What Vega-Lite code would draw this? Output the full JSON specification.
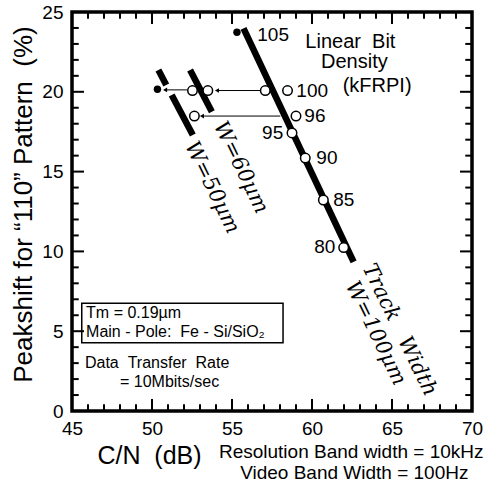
{
  "$schema": "https://vega.github.io/schema/vega-lite/v6.json",
  "width": 400,
  "height": 399,
  "autosize": {"type": "none"},
  "padding": {"left": 72, "top": 12, "right": 14, "bottom": 73},
  "background": "white",
  "config": {
    "view": {"stroke": "black", "strokeWidth": 3.5},
    "font": "Liberation Sans",
    "axis": {
      "domain": false,
      "grid": false,
      "ticks": false,
      "labelFont": "Liberation Sans",
      "labelFontSize": 19,
      "labelColor": "black",
      "labelOverlap": false,
      "labelFlush": false,
      "titleFont": "Liberation Sans",
      "titleFontWeight": "normal",
      "titleColor": "black"
    }
  },
  "datasets": {
    "thick": [
      {"seg": "W100", "x": 55.72, "y": 23.98}, {"seg": "W100", "x": 62.60, "y": 9.35},
      {"seg": "W60", "x": 52.38, "y": 21.37}, {"seg": "W60", "x": 53.74, "y": 18.75},
      {"seg": "W50a", "x": 50.40, "y": 21.37}, {"seg": "W50a", "x": 50.89, "y": 20.43},
      {"seg": "W50b", "x": 51.23, "y": 19.80}, {"seg": "W50b", "x": 52.55, "y": 17.29}
    ],
    "open": [
      {"x": 57.08, "y": 20.08}, {"x": 58.47, "y": 20.08}, {"x": 53.49, "y": 20.08}, {"x": 52.53, "y": 20.08},
      {"x": 52.65, "y": 18.48}, {"x": 59.00, "y": 18.48}, {"x": 58.75, "y": 17.42},
      {"x": 59.58, "y": 15.85}, {"x": 60.71, "y": 13.22}, {"x": 61.98, "y": 10.24}
    ],
    "filled": [{"x": 55.31, "y": 23.73}, {"x": 50.34, "y": 20.16}],
    "arrows": [
      {"from": 56.76, "tip": 54.06, "y": 20.08},
      {"from": 58.02, "tip": 53.12, "y": 18.48},
      {"from": 52.18, "tip": 50.82, "y": 20.12}
    ],
    "numLeft": [
      {"t": "105", "x": 56.58, "y": 23.56}, {"t": "100", "x": 59.02, "y": 20.05},
      {"t": "96", "x": 59.52, "y": 18.48}, {"t": "90", "x": 60.27, "y": 15.85},
      {"t": "85", "x": 61.33, "y": 13.22}
    ],
    "numRight": [{"t": "95", "x": 58.20, "y": 17.42}, {"t": "80", "x": 61.46, "y": 10.28}],
    "header": [
      {"t": "Linear\u00a0\u00a0Bit", "x": 62.40, "y": 23.14},
      {"t": "Density", "x": 62.65, "y": 21.89},
      {"t": "(kFRPI)", "x": 64.07, "y": 20.36}
    ],
    "box": [{"x": 45.61, "x2": 58.19, "y": 6.75, "y2": 4.28}],
    "notesLeft": [
      {"t": "Tm = 0.19µm", "x": 45.88, "y": 6.14},
      {"t": "Main - Pole:\u00a0\u00a0Fe - Si/SiO₂", "x": 45.88, "y": 4.95},
      {"t": "Data\u00a0\u00a0Transfer\u00a0\u00a0Rate", "x": 45.81, "y": 3.01},
      {"t": "= 10Mbits/sec", "x": 48.0, "y": 1.84}
    ],
    "notesBottom": [
      {"t": "Resolution Band width = 10kHz", "x": 70.72, "y": -2.57},
      {"t": "Video Band Width = 100Hz", "x": 69.78, "y": -3.88}
    ],
    "rotated": [
      {"t": "W=60µm", "x": 55.54, "y": 15.26},
      {"t": "W=50µm", "x": 53.74, "y": 14.0},
      {"t": "Track\u00a0\u00a0\u00a0Width", "x": 65.46, "y": 5.08},
      {"t": "W=100µm", "x": 63.96, "y": 4.87}
    ],
    "xminor": [
      {"v": 45, "lo": 0, "hi": 0.42, "top": 25, "topLo": 24.58},
      {"v": 46, "lo": 0, "hi": 0.42, "top": 25, "topLo": 24.58},
      {"v": 47, "lo": 0, "hi": 0.42, "top": 25, "topLo": 24.58},
      {"v": 48, "lo": 0, "hi": 0.42, "top": 25, "topLo": 24.58},
      {"v": 49, "lo": 0, "hi": 0.42, "top": 25, "topLo": 24.58},
      {"v": 50, "lo": 0, "hi": 0.75, "top": 25, "topLo": 24.25},
      {"v": 51, "lo": 0, "hi": 0.42, "top": 25, "topLo": 24.58},
      {"v": 52, "lo": 0, "hi": 0.42, "top": 25, "topLo": 24.58},
      {"v": 53, "lo": 0, "hi": 0.42, "top": 25, "topLo": 24.58},
      {"v": 54, "lo": 0, "hi": 0.42, "top": 25, "topLo": 24.58},
      {"v": 55, "lo": 0, "hi": 0.75, "top": 25, "topLo": 24.25},
      {"v": 56, "lo": 0, "hi": 0.42, "top": 25, "topLo": 24.58},
      {"v": 57, "lo": 0, "hi": 0.42, "top": 25, "topLo": 24.58},
      {"v": 58, "lo": 0, "hi": 0.42, "top": 25, "topLo": 24.58},
      {"v": 59, "lo": 0, "hi": 0.42, "top": 25, "topLo": 24.58},
      {"v": 60, "lo": 0, "hi": 0.75, "top": 25, "topLo": 24.25},
      {"v": 61, "lo": 0, "hi": 0.42, "top": 25, "topLo": 24.58},
      {"v": 62, "lo": 0, "hi": 0.42, "top": 25, "topLo": 24.58},
      {"v": 63, "lo": 0, "hi": 0.42, "top": 25, "topLo": 24.58},
      {"v": 64, "lo": 0, "hi": 0.42, "top": 25, "topLo": 24.58},
      {"v": 65, "lo": 0, "hi": 0.75, "top": 25, "topLo": 24.25},
      {"v": 66, "lo": 0, "hi": 0.42, "top": 25, "topLo": 24.58},
      {"v": 67, "lo": 0, "hi": 0.42, "top": 25, "topLo": 24.58},
      {"v": 68, "lo": 0, "hi": 0.42, "top": 25, "topLo": 24.58},
      {"v": 69, "lo": 0, "hi": 0.42, "top": 25, "topLo": 24.58}
    ],
    "yminor": [
      {"v": 1, "lo": 45, "hi": 45.42, "rt": 70, "rtLo": 69.58},
      {"v": 2, "lo": 45, "hi": 45.42, "rt": 70, "rtLo": 69.58},
      {"v": 3, "lo": 45, "hi": 45.42, "rt": 70, "rtLo": 69.58},
      {"v": 4, "lo": 45, "hi": 45.42, "rt": 70, "rtLo": 69.58},
      {"v": 5, "lo": 45, "hi": 45.75, "rt": 70, "rtLo": 69.25},
      {"v": 6, "lo": 45, "hi": 45.42, "rt": 70, "rtLo": 69.58},
      {"v": 7, "lo": 45, "hi": 45.42, "rt": 70, "rtLo": 69.58},
      {"v": 8, "lo": 45, "hi": 45.42, "rt": 70, "rtLo": 69.58},
      {"v": 9, "lo": 45, "hi": 45.42, "rt": 70, "rtLo": 69.58},
      {"v": 10, "lo": 45, "hi": 45.75, "rt": 70, "rtLo": 69.25},
      {"v": 11, "lo": 45, "hi": 45.42, "rt": 70, "rtLo": 69.58},
      {"v": 12, "lo": 45, "hi": 45.42, "rt": 70, "rtLo": 69.58},
      {"v": 13, "lo": 45, "hi": 45.42, "rt": 70, "rtLo": 69.58},
      {"v": 14, "lo": 45, "hi": 45.42, "rt": 70, "rtLo": 69.58},
      {"v": 15, "lo": 45, "hi": 45.75, "rt": 70, "rtLo": 69.25},
      {"v": 16, "lo": 45, "hi": 45.42, "rt": 70, "rtLo": 69.58},
      {"v": 17, "lo": 45, "hi": 45.42, "rt": 70, "rtLo": 69.58},
      {"v": 18, "lo": 45, "hi": 45.42, "rt": 70, "rtLo": 69.58},
      {"v": 19, "lo": 45, "hi": 45.42, "rt": 70, "rtLo": 69.58},
      {"v": 20, "lo": 45, "hi": 45.75, "rt": 70, "rtLo": 69.25},
      {"v": 21, "lo": 45, "hi": 45.42, "rt": 70, "rtLo": 69.58},
      {"v": 22, "lo": 45, "hi": 45.42, "rt": 70, "rtLo": 69.58},
      {"v": 23, "lo": 45, "hi": 45.42, "rt": 70, "rtLo": 69.58},
      {"v": 24, "lo": 45, "hi": 45.42, "rt": 70, "rtLo": 69.58}
    ]
  },
  "layer": [
    {
      "data": {"name": "thick"},
      "mark": {"type": "line", "color": "black", "strokeWidth": 6.5, "strokeCap": "butt"},
      "encoding": {
        "x": {"field": "x", "type": "quantitative",
          "scale": {"domain": [45, 70], "nice": false, "zero": false},
          "axis": {
            "orient": "bottom",
            "values": [45, 50, 55, 60, 65, 70],
            "labelPadding": 8,
            "title": "C/N\u00a0\u00a0(dB)",
            "titleFontSize": 25,
            "titleX": 77, "titleY": 44,
            "titleAlign": "center", "titleBaseline": "middle", "titleAngle": 0
          }},
        "y": {"field": "y", "type": "quantitative",
          "scale": {"domain": [0, 25], "nice": false, "zero": false},
          "axis": {
            "orient": "left",
            "values": [0, 5, 10, 15, 20, 25],
            "labelPadding": 9,
            "title": "Peakshift for “110” Pattern\u00a0\u00a0(%)",
            "titleFontSize": 26,
            "titleX": -49, "titleY": 192,
            "titleAlign": "center", "titleBaseline": "middle", "titleAngle": -90
          }},
        "detail": {"field": "seg"}
      }
    },
    {
      "data": {"name": "arrows"},
      "mark": {"type": "rule", "color": "black", "strokeWidth": 1},
      "encoding": {
        "x": {"field": "from", "type": "quantitative"},
        "x2": {"field": "tip"},
        "y": {"field": "y", "type": "quantitative"}
      }
    },
    {
      "data": {"name": "arrows"},
      "mark": {"type": "point", "shape": "triangle-left", "filled": true, "color": "black", "size": 22, "opacity": 1},
      "encoding": {
        "x": {"field": "tip", "type": "quantitative"},
        "y": {"field": "y", "type": "quantitative"}
      }
    },
    {
      "data": {"name": "open"},
      "mark": {"type": "point", "shape": "circle", "filled": true, "fill": "white", "stroke": "black", "strokeWidth": 1.5, "size": 90, "opacity": 1},
      "encoding": {
        "x": {"field": "x", "type": "quantitative"},
        "y": {"field": "y", "type": "quantitative"}
      }
    },
    {
      "data": {"name": "filled"},
      "mark": {"type": "circle", "color": "black", "size": 55, "opacity": 1},
      "encoding": {
        "x": {"field": "x", "type": "quantitative"},
        "y": {"field": "y", "type": "quantitative"}
      }
    },
    {
      "data": {"name": "numLeft"},
      "mark": {"type": "text", "align": "left", "baseline": "middle", "fontSize": 19, "font": "Liberation Sans", "color": "black"},
      "encoding": {
        "x": {"field": "x", "type": "quantitative"},
        "y": {"field": "y", "type": "quantitative"},
        "text": {"field": "t"}
      }
    },
    {
      "data": {"name": "numRight"},
      "mark": {"type": "text", "align": "right", "baseline": "middle", "fontSize": 19, "font": "Liberation Sans", "color": "black"},
      "encoding": {
        "x": {"field": "x", "type": "quantitative"},
        "y": {"field": "y", "type": "quantitative"},
        "text": {"field": "t"}
      }
    },
    {
      "data": {"name": "header"},
      "mark": {"type": "text", "align": "center", "baseline": "middle", "fontSize": 20, "font": "Liberation Sans", "color": "black"},
      "encoding": {
        "x": {"field": "x", "type": "quantitative"},
        "y": {"field": "y", "type": "quantitative"},
        "text": {"field": "t"}
      }
    },
    {
      "data": {"name": "box"},
      "mark": {"type": "rect", "fillOpacity": 0, "stroke": "black", "strokeWidth": 1.5},
      "encoding": {
        "x": {"field": "x", "type": "quantitative"},
        "x2": {"field": "x2"},
        "y": {"field": "y", "type": "quantitative"},
        "y2": {"field": "y2"}
      }
    },
    {
      "data": {"name": "notesLeft"},
      "mark": {"type": "text", "align": "left", "baseline": "middle", "fontSize": 16, "font": "Liberation Sans", "color": "black"},
      "encoding": {
        "x": {"field": "x", "type": "quantitative"},
        "y": {"field": "y", "type": "quantitative"},
        "text": {"field": "t"}
      }
    },
    {
      "data": {"name": "notesBottom"},
      "mark": {"type": "text", "align": "right", "baseline": "middle", "fontSize": 19, "font": "Liberation Sans", "color": "black"},
      "encoding": {
        "x": {"field": "x", "type": "quantitative"},
        "y": {"field": "y", "type": "quantitative"},
        "text": {"field": "t"}
      }
    },
    {
      "data": {"name": "rotated"},
      "mark": {"type": "text", "align": "center", "baseline": "middle", "fontSize": 21, "font": "DejaVu Serif", "fontStyle": "italic", "angle": 64, "color": "black"},
      "encoding": {
        "x": {"field": "x", "type": "quantitative"},
        "y": {"field": "y", "type": "quantitative"},
        "text": {"field": "t"}
      }
    },
    {
      "data": {"name": "xminor"},
      "mark": {"type": "rule", "color": "black", "strokeWidth": 2},
      "encoding": {
        "x": {"field": "v", "type": "quantitative"},
        "y": {"field": "lo", "type": "quantitative"},
        "y2": {"field": "hi"}
      }
    },
    {
      "data": {"name": "xminor"},
      "mark": {"type": "rule", "color": "black", "strokeWidth": 2},
      "encoding": {
        "x": {"field": "v", "type": "quantitative"},
        "y": {"field": "top", "type": "quantitative"},
        "y2": {"field": "topLo"}
      }
    },
    {
      "data": {"name": "yminor"},
      "mark": {"type": "rule", "color": "black", "strokeWidth": 2},
      "encoding": {
        "y": {"field": "v", "type": "quantitative"},
        "x": {"field": "lo", "type": "quantitative"},
        "x2": {"field": "hi"}
      }
    },
    {
      "data": {"name": "yminor"},
      "mark": {"type": "rule", "color": "black", "strokeWidth": 2},
      "encoding": {
        "y": {"field": "v", "type": "quantitative"},
        "x": {"field": "rt", "type": "quantitative"},
        "x2": {"field": "rtLo"}
      }
    }
  ]
}
